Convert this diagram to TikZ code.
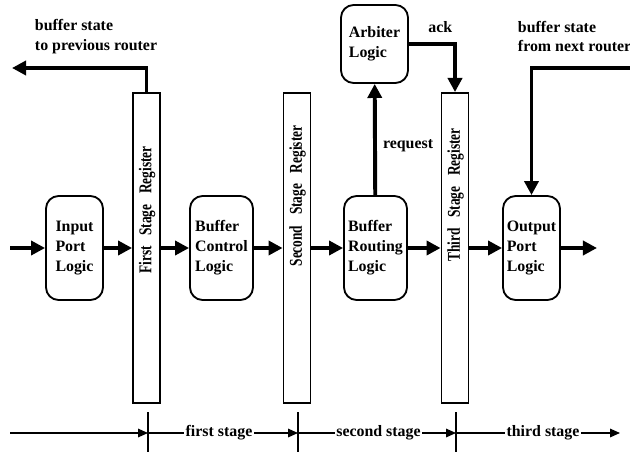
\documentclass[tikz,border=0pt]{standalone}
\usepackage{fontspec}
\setmainfont{Liberation Serif}
\usetikzlibrary{arrows.meta}

\newcommand{\reglbl}[1]{\scalebox{1}[1.35]{#1}}

\tikzset{
  logic/.style={draw, line width=1.3pt, rounded corners=9pt, align=left,
    inner sep=1pt, minimum height=2.6cm},
  reg/.style={draw, line width=1.3pt, minimum width=0.675cm,
    minimum height=7.75cm, inner sep=0pt},
  reglabel/.style={rotate=90, font=\fontsize{9.5}{11}\selectfont\bfseries},
  flow/.style={line width=2.8pt, -{Triangle[length=10pt,width=10pt]}},
  timeline/.style={line width=1pt},
  timearrow/.style={line width=1pt, -{Triangle[length=7pt,width=6pt]}},
  stagelbl/.style={inner sep=1pt}
}

\begin{document}
\begin{tikzpicture}[x=0.025cm, y=-0.025cm,
    font=\fontsize{11.3}{14.2}\selectfont\bfseries]
  \useasboundingbox (0,0) rectangle (630,452);

  % logic blocks
  \node[logic, minimum width=1.425cm] (ipl) at (74.5,248) {Input\\Port\\Logic};
  \node[logic, minimum width=1.575cm] (bcl) at (221.5,248) {Buffer\\Control\\Logic};
  \node[logic, minimum width=1.575cm] (brl) at (375.5,248) {Buffer\\Routing\\Logic};
  \node[logic, minimum width=1.425cm] (opl) at (531.5,248) {Output\\Port\\Logic};
  \node[logic, minimum width=1.675cm, minimum height=1.95cm] (arb) at (374.5,44) {Arbiter\\Logic};

  % pipeline registers
  \node[reg] (r1) at (146.5,248) {};
  \node[reg] (r2) at (297,248) {};
  \node[reg] (r3) at (455,248) {};
  \node[reglabel] (r1l) at (147,210) {\reglbl{First\hspace{0.8em}Stage\hspace{0.8em}Register}};
  \node[reglabel] (r2l) at (297.5,196) {\reglbl{Second\hspace{0.8em}Stage\hspace{0.8em}Register}};
  \node[reglabel] (r3l) at (455.5,195) {\reglbl{Third\hspace{0.8em}Stage\hspace{0.8em}Register}};

  % data path
  \coordinate (in) at (10,248);
  \coordinate (out) at (597,248);
  \draw[flow] (in) -- (ipl);
  \draw[flow] (ipl) -- (r1);
  \draw[flow] (r1) -- (bcl);
  \draw[flow] (bcl) -- (r2);
  \draw[flow] (r2) -- (brl);
  \draw[flow] (brl) -- (r3);
  \draw[flow] (r3) -- (opl);
  \draw[flow] (opl) -- (out);

  % arbitration
  \draw[flow] (brl) -- node[pos=0.44, right=1pt] {request} (arb);
  \draw[flow] (arb.east) -| node[pos=0.34, above=3pt] {ack} (r3.north);

  % buffer state
  \coordinate (prev) at (12,68);
  \coordinate (next) at (630,68);
  \draw[flow] (r1.north) |- (prev);
  \draw[flow] (next) -| (opl.north);
  \node[anchor=west, align=left] (bsp) at (30,36.5) {buffer state\\to previous router};
  \node[anchor=west, align=left] (bsn) at (513,36.5) {buffer state\\from next router};

  % stage time line
  \foreach \k/\x in {k1/148,k2/298,k3/456} {
    \coordinate (\k) at (\x,433);
    \draw[timeline] (\x,412) -- (\x,452);
  }
  \coordinate (t0) at (10,433);
  \coordinate (t1) at (620,433);
  \node[stagelbl] (fs) at (219,433) {first stage};
  \node[stagelbl] (ss) at (378.5,433) {second stage};
  \node[stagelbl] (ts) at (543,433) {third stage};
  \draw[timearrow] (t0) -- (k1);
  \draw[timeline] (k1) -- (fs);
  \draw[timearrow] (fs) -- (k2);
  \draw[timeline] (k2) -- (ss);
  \draw[timearrow] (ss) -- (k3);
  \draw[timeline] (k3) -- (ts);
  \draw[timearrow] (ts) -- (t1);
\end{tikzpicture}
\end{document}
